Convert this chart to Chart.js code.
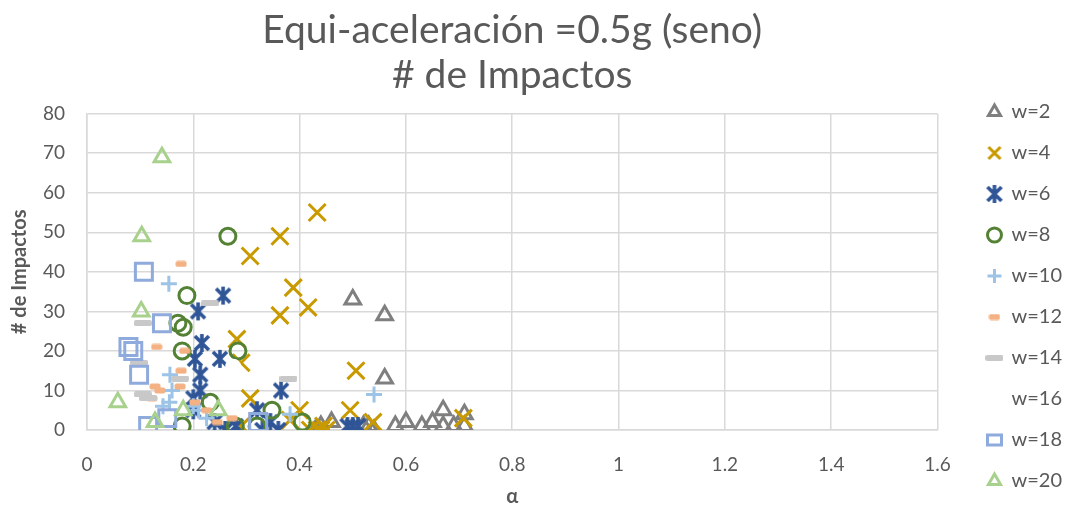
<!DOCTYPE html>
<html>
<head>
<meta charset="utf-8">
<script src="https://cdn.jsdelivr.net/npm/chart.js@4.4.1/dist/chart.umd.min.js"></script>
<style>
  html, body { margin: 0; padding: 0; background: #fff; }
  #wrap { width: 1072px; height: 512px; }
</style>
</head>
<body>
<div id="wrap"><canvas id="chart"></canvas></div>
<script>
// values: [alpha, impactos]
const seriesNames = ['w=2', 'w=4', 'w=6', 'w=8', 'w=10', 'w=12', 'w=14', 'w=16', 'w=18', 'w=20'];

const w2 = [[0.43, 0], [0.44, 1], [0.46, 2], [0.5, 33], [0.52, 1], [0.53, 1], [0.54, 0], [0.56, 29], [0.56, 13],
  [0.58, 1], [0.6, 2], [0.63, 1], [0.65, 2], [0.67, 5], [0.67, 1], [0.69, 1], [0.71, 4], [0.71, 1]];
const w4 = [[0.433, 55], [0.363, 49], [0.307, 44], [0.388, 36], [0.416, 31], [0.363, 29], [0.282, 23], [0.29, 17],
  [0.506, 15], [0.307, 8], [0.495, 5], [0.4, 5], [0.382, 2.5], [0.538, 2], [0.445, 1], [0.433, 0], [0.42, 0],
  [0.44, 0], [0.45, 0], [0.708, 3], [0.29, 1]];
const w6 = [[0.256, 34], [0.209, 30], [0.216, 22], [0.203, 18], [0.25, 18], [0.213, 14], [0.213, 10], [0.2, 8],
  [0.2, 5], [0.365, 10], [0.32, 5], [0.26, 0], [0.28, 1], [0.33, 0], [0.345, 2], [0.36, 0], [0.49, 1], [0.5, 1],
  [0.51, 1], [0.24, 2]];
const w8 = [[0.265, 49], [0.188, 34], [0.171, 27], [0.181, 26], [0.179, 20], [0.284, 20], [0.232, 7], [0.348, 5],
  [0.405, 2], [0.279, 1], [0.179, 1], [0.32, 1]];
const w10 = [[0.154, 37], [0.156, 14], [0.16, 10], [0.155, 7], [0.143, 6], [0.21, 5], [0.225, 3], [0.2, 6],
  [0.382, 4], [0.54, 9]];
const w12 = [[0.177, 42], [0.131, 21], [0.184, 20], [0.177, 15], [0.128, 11], [0.137, 10], [0.175, 11], [0.122, 8],
  [0.203, 7], [0.225, 5], [0.245, 2], [0.273, 3]];
const w14 = [[0.231, 32], [0.105, 27], [0.098, 17], [0.175, 13], [0.105, 9], [0.115, 8], [0.379, 13]];
const w16 = [[0.275, 16], [0.118, 4]];
const w18 = [[0.107, 40], [0.141, 27], [0.078, 21], [0.087, 20], [0.098, 14], [0.151, 3], [0.115, 1], [0.322, 2]];
const w20 = [[0.141, 69], [0.103, 49], [0.102, 30], [0.058, 7], [0.128, 2], [0.181, 5], [0.247, 5]];

const xTicks = [0, 0.2, 0.4, 0.6, 0.8, 1, 1.2, 1.4, 1.6];
const yTicks = [0, 10, 20, 30, 40, 50, 60, 70, 80];

// custom marker images
function marker(w, h, draw) {
  const c = document.createElement('canvas');
  c.width = w; c.height = h;
  draw(c.getContext('2d'));
  return c;
}
const asterisk = marker(20, 20, g => {
  g.strokeStyle = '#2F5597'; g.lineWidth = 3.6;
  g.beginPath();
  g.moveTo(3, 3); g.lineTo(17, 17);
  g.moveTo(17, 3); g.lineTo(3, 17);
  g.moveTo(10, 1); g.lineTo(10, 19);
  g.stroke();
});
const dashOrange = marker(12, 7, g => {
  g.fillStyle = '#F4B183';
  g.beginPath(); g.roundRect(0.5, 0.5, 11, 6, 2); g.fill();
});
const dashGray = marker(18, 6, g => {
  g.fillStyle = '#C8C8C8';
  g.beginPath(); g.roundRect(0, 0, 18, 6, 2); g.fill();
});
// larger x for the legend entry of w=4
const legendX = marker(16, 16, g => {
  g.strokeStyle = '#C99A00'; g.lineWidth = 3;
  g.beginPath();
  g.moveTo(2, 2); g.lineTo(14, 14);
  g.moveTo(14, 2); g.lineTo(2, 14);
  g.stroke();
});

const pts = arr => arr.map(p => ({ x: p[0], y: p[1] }));

const styles = [
  { data: w2, color: '#7F7F7F', pointStyle: 'triangle', radius: 9, bw: 3 },
  { data: w4, color: '#C99A00', pointStyle: 'crossRot', radius: 12, bw: 3 },
  { data: w6, color: '#2F5597', pointStyle: asterisk, radius: 9, bw: 0 },
  { data: w8, color: '#548235', pointStyle: 'circle', radius: 8, bw: 3 },
  { data: w10, color: '#9DC3E6', pointStyle: 'cross', radius: 8, bw: 3 },
  { data: w12, color: '#F4B183', pointStyle: dashOrange, radius: 6, bw: 0 },
  { data: w14, color: '#C8C8C8', pointStyle: dashGray, radius: 9, bw: 0 },
  { data: w16, color: '#FFFFFF', pointStyle: 'circle', radius: 8, bw: 0 },
  { data: w18, color: '#8FAADC', pointStyle: 'rect', radius: 12, bw: 3 },
  { data: w20, color: '#A9D18E', pointStyle: 'triangle', radius: 9, bw: 3 }
];

const datasets = styles.map((s, i) => ({
  label: seriesNames[i],
  data: pts(s.data),
  order: styles.length - i,
  pointStyle: s.pointStyle,
  pointRadius: s.radius,
  pointHoverRadius: s.radius,
  borderColor: s.color,
  backgroundColor: i === 7 ? '#FFFFFF' : 'rgba(0,0,0,0)',
  pointBorderWidth: s.bw,
  borderWidth: s.bw,
  showLine: false
}));

const txt = '#595959';
const fam = 'Lato, "Open Sans", sans-serif';

new Chart(document.getElementById('chart'), {
  type: 'scatter',
  data: { datasets },
  options: {
    responsive: true,
    maintainAspectRatio: false,
    animation: false,
    layout: { padding: 0 },
    plugins: {
      title: {
        display: true,
        fullSize: false,
        text: ['Equi-aceleración =0.5g (seno)', '# de Impactos'],
        color: txt,
        font: { family: fam, size: 39, weight: 'normal', lineHeight: 1.15 },
        padding: { top: 8, bottom: 16 }
      },
      legend: {
        position: 'right',
        align: 'end',
        labels: {
          usePointStyle: true,
          pointStyleWidth: 14,
          boxHeight: 10,
          color: txt,
          font: { family: fam, size: 20 },
          padding: 21,
          sort: (a, b) => a.datasetIndex - b.datasetIndex,
          generateLabels: chart => {
            const items = Chart.defaults.plugins.legend.labels.generateLabels(chart);
            items.forEach(it => {
              const ds = chart.data.datasets[it.datasetIndex];
              it.fillStyle = 'rgba(0,0,0,0)';
              it.strokeStyle = it.datasetIndex === 7 ? 'rgba(0,0,0,0)' : ds.borderColor;
              it.lineWidth = ds.borderWidth;
              if (it.datasetIndex === 1) it.pointStyle = legendX;
            });
            return items;
          }
        }
      },
      tooltip: { enabled: false }
    },
    scales: {
      x: {
        type: 'linear',
        min: 0, max: 1.6,
        afterBuildTicks: s => { s.ticks = xTicks.map(v => ({ value: v })); },
        afterFit: s => { s.height = 82; },
        ticks: {
          color: txt, font: { family: fam, size: 19 }, padding: 23,
          callback: v => String(+v.toFixed(1))
        },
        grid: { color: '#D9D9D9', lineWidth: 1.5, drawTicks: false },
        border: { color: '#D9D9D9', width: 1.5 },
        title: { display: true, text: 'α', color: txt, font: { family: fam, size: 20, weight: 'bold' }, padding: { top: 3, bottom: 3 } }
      },
      y: {
        min: 0, max: 80,
        afterBuildTicks: s => { s.ticks = yTicks.map(v => ({ value: v })); },
        afterFit: s => { s.width = 87; },
        ticks: { color: txt, font: { family: fam, size: 19 }, padding: 22 },
        grid: { color: '#D9D9D9', lineWidth: 1.5, drawTicks: false },
        border: { color: '#D9D9D9', width: 1.5 },
        title: { display: true, text: '# de Impactos', color: txt, font: { family: fam, size: 20, weight: 'bold' }, padding: { top: 8, bottom: 8 } }
      },
      // empty spacer between plot and legend
      gap: {
        type: 'linear',
        position: 'right',
        display: true,
        afterFit: s => { s.width = 29; },
        ticks: { display: false },
        grid: { display: false, drawTicks: false },
        border: { display: false }
      }
    }
  }
});
</script>
</body>
</html>
